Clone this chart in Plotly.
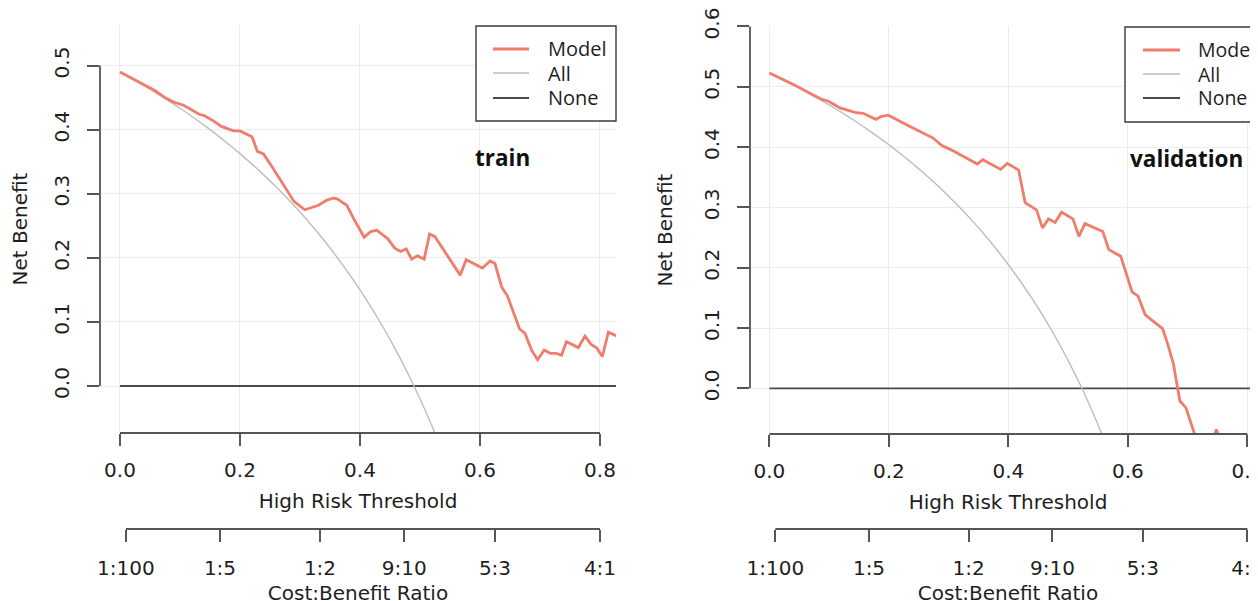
import plotly.graph_objects as go

# ------------------------- data -------------------------
train_thr = [0.000, 0.020, 0.040, 0.058, 0.075, 0.089, 0.106, 0.120, 0.132, 0.140,
             0.155, 0.169, 0.189, 0.200, 0.210, 0.220, 0.229, 0.239, 0.250, 0.262,
             0.277, 0.290, 0.308, 0.331, 0.345, 0.355, 0.362, 0.378, 0.389, 0.407,
             0.418, 0.428, 0.446, 0.458, 0.468, 0.477, 0.486, 0.496, 0.507, 0.516,
             0.525, 0.567, 0.577, 0.604, 0.617, 0.625, 0.636, 0.646, 0.666, 0.675,
             0.686, 0.696, 0.707, 0.717, 0.727, 0.736, 0.744, 0.764, 0.775, 0.785,
             0.794, 0.804, 0.814, 0.825, 0.835]
train_model = [0.490, 0.480, 0.469, 0.461, 0.450, 0.443, 0.438, 0.431, 0.424, 0.422,
               0.414, 0.405, 0.398, 0.398, 0.393, 0.389, 0.366, 0.362, 0.347, 0.329,
               0.307, 0.288, 0.275, 0.282, 0.290, 0.293, 0.292, 0.282, 0.262, 0.232,
               0.241, 0.243, 0.230, 0.215, 0.210, 0.214, 0.198, 0.203, 0.198, 0.237,
               0.233, 0.173, 0.197, 0.184, 0.195, 0.191, 0.155, 0.140, 0.089, 0.082,
               0.056, 0.041, 0.056, 0.051, 0.051, 0.048, 0.069, 0.060, 0.078, 0.065,
               0.060, 0.046, 0.084, 0.079, 0.075]

valid_thr = [0.000, 0.040, 0.070, 0.088, 0.099, 0.118, 0.135, 0.145, 0.157, 0.178,
             0.188, 0.199, 0.232, 0.260, 0.274, 0.288, 0.305, 0.348, 0.357, 0.387,
             0.398, 0.417, 0.428, 0.447, 0.457, 0.467, 0.478, 0.489, 0.508, 0.518,
             0.528, 0.558, 0.568, 0.588, 0.607, 0.617, 0.629, 0.658, 0.667, 0.676,
             0.687, 0.697, 0.713, 0.725, 0.740, 0.748, 0.756, 0.780, 0.805, 0.811,
             0.820, 0.835]
valid_model = [0.523, 0.504, 0.488, 0.479, 0.476, 0.465, 0.460, 0.457, 0.456, 0.446,
               0.451, 0.453, 0.436, 0.422, 0.415, 0.403, 0.395, 0.372, 0.379, 0.363,
               0.373, 0.362, 0.308, 0.296, 0.266, 0.281, 0.275, 0.292, 0.281, 0.252,
               0.273, 0.260, 0.230, 0.219, 0.160, 0.153, 0.122, 0.099, 0.072, 0.041,
               -0.021, -0.032, -0.080, -0.110, -0.090, -0.068, -0.090, -0.130, -0.110, -0.080,
               0.005, 0.020]

all_thr_train = [0.00, 0.02, 0.04, 0.06, 0.08, 0.10, 0.12, 0.14, 0.16, 0.18, 0.20, 0.22, 0.24, 0.26,
                 0.28, 0.30, 0.32, 0.34, 0.36, 0.38, 0.40, 0.42, 0.44, 0.46, 0.48, 0.50, 0.52, 0.54]
all_nb_train = [0.490, 0.4796, 0.4688, 0.4574, 0.4457, 0.4333, 0.4205, 0.4070, 0.3929, 0.3780,
                0.3625, 0.3462, 0.3290, 0.3108, 0.2917, 0.2714, 0.2500, 0.2273, 0.2031, 0.1774,
                0.1500, 0.1207, 0.0893, 0.0556, 0.0192, -0.0200, -0.0625, -0.1087]

all_thr_valid = [0.00, 0.02, 0.04, 0.06, 0.08, 0.10, 0.12, 0.14, 0.16, 0.18, 0.20, 0.22, 0.24, 0.26,
                 0.28, 0.30, 0.32, 0.34, 0.36, 0.38, 0.40, 0.42, 0.44, 0.46, 0.48, 0.50, 0.52, 0.54, 0.56]
all_nb_valid = [0.523, 0.5133, 0.5031, 0.4926, 0.4815, 0.4700, 0.4580, 0.4453, 0.4321, 0.4183,
                0.4038, 0.3885, 0.3724, 0.3554, 0.3375, 0.3186, 0.2985, 0.2773, 0.2547, 0.2306,
                0.2050, 0.1776, 0.1482, 0.1167, 0.0827, 0.0460, 0.0063, -0.0370, -0.0841]

none_thr = [0.0, 0.85]
none_nb = [0.0, 0.0]

threshold_ticks = [0.0, 0.2, 0.4, 0.6, 0.8]
train_nb_ticks = [0.0, 0.1, 0.2, 0.3, 0.4, 0.5]
valid_nb_ticks = [0.0, 0.1, 0.2, 0.3, 0.4, 0.5, 0.6]

cb_labels = ["1:100", "1:5", "1:2", "9:10", "5:3", "4:1"]
cb_cost = [1, 1, 1, 9, 5, 4]
cb_benefit = [100, 5, 2, 10, 3, 1]

series_names = ["Model", "All", "None"]
panel_labels = ["train", "validation"]

# ------------------------- styling -------------------------
OFF = 8  # page body margin the figure sits behind
W, H = 1258, 601
MODEL_C = "#F07C6C"
ALL_C = "#BDBDBD"
NONE_C = "#4A4A4A"
AXIS_C = "#555555"
GRID_C = "#EDEDED"
TXT_C = "#1E1E1E"
TICK_FONT = dict(family="DejaVu Sans", size=20, color=TXT_C)
LEG_FONT = dict(family="Open Sans", size=20, color=TXT_C)

cb_thr = [c / (c + b) for c, b in zip(cb_cost, cb_benefit)]


def px(x):
    return (x - OFF) / W


def py(y):
    return 1 - (y - OFF) / H


fig = go.Figure()

panels = [
    dict(xa="x", ya="y", cb="x3", thr=train_thr, model=train_model,
         athr=all_thr_train, anb=all_nb_train, label=panel_labels[0]),
    dict(xa="x2", ya="y2", cb="x4", thr=valid_thr, model=valid_model,
         athr=all_thr_valid, anb=all_nb_valid, label=panel_labels[1]),
]

for p in panels:
    fig.add_trace(go.Scatter(x=none_thr, y=none_nb, mode="lines", name=series_names[2],
                             line=dict(color=NONE_C, width=1.8), xaxis=p["xa"], yaxis=p["ya"],
                             showlegend=False, hoverinfo="skip"))
    fig.add_trace(go.Scatter(x=p["athr"], y=p["anb"], mode="lines", name=series_names[1],
                             line=dict(color=ALL_C, width=1.4, shape="spline", smoothing=0.6),
                             xaxis=p["xa"], yaxis=p["ya"], showlegend=False, hoverinfo="skip"))
    fig.add_trace(go.Scatter(x=p["thr"], y=p["model"], mode="lines", name=series_names[0],
                             line=dict(color=MODEL_C, width=2.8), xaxis=p["xa"], yaxis=p["ya"],
                             showlegend=False))
    # invisible trace so the cost:benefit axis is attached
    fig.add_trace(go.Scatter(x=[cb_thr[0], cb_thr[-1]], y=[None, None], mode="lines",
                             xaxis=p["cb"], yaxis=p["ya"], showlegend=False, hoverinfo="skip"))

common_x = dict(tickvals=threshold_ticks, tickformat=".1f", ticks="outside", ticklen=12,
                tickwidth=1.6, tickcolor=AXIS_C, showline=False, showgrid=True,
                gridcolor=GRID_C, gridwidth=1, zeroline=False, tickfont=TICK_FONT,
                title=dict(text="High Risk Threshold", font=TICK_FONT, standoff=12),
                automargin=False, ticklabelstandoff=7, ticklabeloverflow="allow")
common_y = dict(tickformat=".1f", ticks="outside", ticklen=12, tickwidth=1.6, tickcolor=AXIS_C,
                showline=False, showgrid=True, gridcolor=GRID_C, gridwidth=1, zeroline=False,
                tickangle=-90, tickfont=TICK_FONT,
                title=dict(text="Net Benefit", font=TICK_FONT, standoff=22),
                automargin=False, ticklabelstandoff=10, ticklabeloverflow="allow")
common_cb = dict(tickvals=cb_thr, ticktext=cb_labels, ticks="outside", ticklen=12, tickwidth=1.6,
                 tickcolor=AXIS_C, showline=False, showgrid=False, zeroline=False,
                 tickfont=TICK_FONT, anchor="free", side="bottom",
                 title=dict(text="Cost:Benefit Ratio", font=TICK_FONT, standoff=6),
                 automargin=False, ticklabelstandoff=9, ticklabeloverflow="allow")

L_dom = [px(100), px(616)]
R_dom = [px(750), 1.0]
L_rng = [-0.0333, 0.8267]
R_rng = [-0.0325, 0.8311]
yL_dom = [py(433), py(25)]
yR_dom = [py(434), py(26)]
cb_pos = py(529)

fig.update_layout(
    width=W, height=H,
    margin=dict(l=0, r=0, t=0, b=0, autoexpand=False),
    paper_bgcolor="white", plot_bgcolor="white",
    showlegend=False,
    xaxis=dict(domain=L_dom, range=L_rng, anchor="y", **common_x),
    yaxis=dict(domain=yL_dom, range=[-0.0733, 0.5632], anchor="x", tickvals=train_nb_ticks, **common_y),
    xaxis2=dict(domain=R_dom, range=R_rng, anchor="y2", **common_x),
    yaxis2=dict(domain=yR_dom, range=[-0.0757, 0.6008], anchor="x2", tickvals=valid_nb_ticks, **common_y),
    xaxis3=dict(overlaying="x", range=L_rng, position=cb_pos, **common_cb),
    xaxis4=dict(overlaying="x2", range=R_rng, position=cb_pos, **common_cb),
)

shapes = []
for p, ydom, nbt in [(panels[0], yL_dom, train_nb_ticks), (panels[1], yR_dom, valid_nb_ticks)]:
    # threshold axis line (0 .. 0.8)
    shapes.append(dict(type="line", xref=p["xa"], yref="paper", x0=threshold_ticks[0], x1=threshold_ticks[-1],
                       y0=ydom[0], y1=ydom[0], line=dict(color=AXIS_C, width=1.8)))
    # net benefit axis line
    shapes.append(dict(type="line", xref=p["xa"] + " domain", yref=p["ya"], x0=0, x1=0,
                       y0=nbt[0], y1=nbt[-1], line=dict(color=AXIS_C, width=1.8)))
    # cost:benefit axis line
    shapes.append(dict(type="line", xref=p["xa"], yref="paper", x0=cb_thr[0], x1=cb_thr[-1],
                       y0=cb_pos, y1=cb_pos, line=dict(color=AXIS_C, width=1.8)))

annotations = []
# legends (drawn boxes)
leg_specs = [
    dict(box=(476, 26, 616, 121), lx=(493, 529), tx=546, ys=(49, 73, 98), fs=20),
    dict(box=(1125, 27, 1300, 122), lx=(1143, 1180), tx=1196, ys=(50, 74, 98), fs=19.5),
]
leg_colors = [MODEL_C, ALL_C, NONE_C]
leg_widths = [2.8, 1.6, 1.8]
for spec in leg_specs:
    x0, y0, x1, y1 = spec["box"]
    shapes.append(dict(type="rect", xref="paper", yref="paper", x0=px(x0), x1=px(x1), y0=py(y1), y1=py(y0),
                       line=dict(color="#3A3A3A", width=1.4), fillcolor="white", layer="above"))
    for name, col, lw, yy in zip(series_names, leg_colors, leg_widths, spec["ys"]):
        shapes.append(dict(type="line", xref="paper", yref="paper", x0=px(spec["lx"][0]), x1=px(spec["lx"][1]),
                           y0=py(yy), y1=py(yy), line=dict(color=col, width=lw), layer="above"))
        annotations.append(dict(text=name, xref="paper", yref="paper", x=px(spec["tx"]), y=py(yy),
                                xanchor="left", yanchor="middle", showarrow=False,
                                font=dict(LEG_FONT, size=spec["fs"])))

annotations.append(dict(text="<b>train</b>", xref="paper", yref="paper", x=px(502.5), y=py(157),
                        xanchor="center", yanchor="middle", showarrow=False,
                        font=dict(family="Open Sans", size=22.5, color="#111111")))
annotations.append(dict(text="<b>validation</b>", xref="paper", yref="paper", x=px(1186.5), y=py(158),
                        xanchor="center", yanchor="middle", showarrow=False,
                        font=dict(family="Open Sans", size=22.5, color="#111111")))

fig.update_layout(shapes=shapes, annotations=annotations)
fig.write_html("out.html",
               post_script="document.documentElement.style.overflow='hidden';"
                           "document.body.style.overflow='hidden';")
